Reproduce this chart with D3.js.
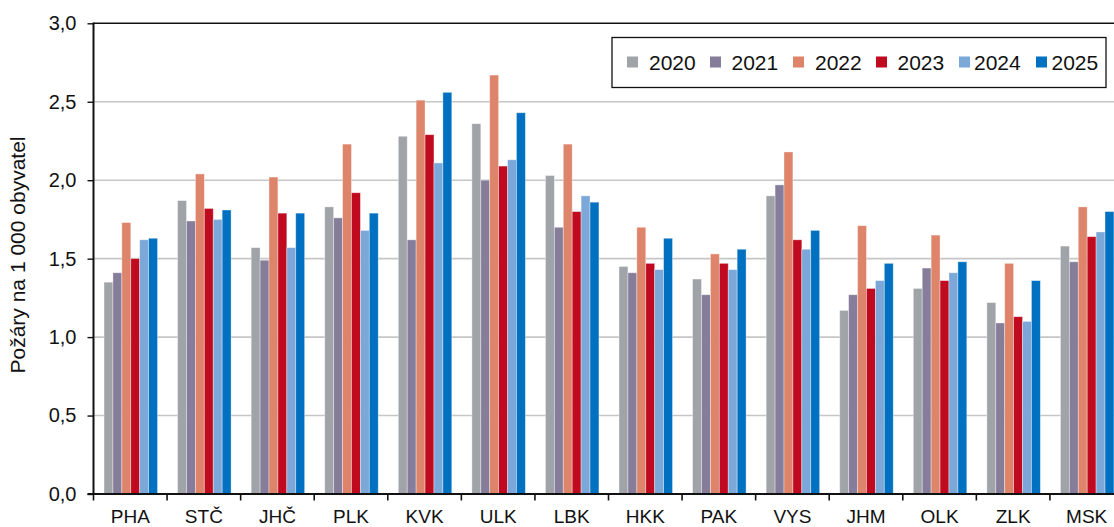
<!DOCTYPE html>
<html>
<head>
<meta charset="utf-8">
<script src="https://cdn.jsdelivr.net/npm/d3@7"></script>
<style>
  html, body { margin: 0; padding: 0; background: #fff; overflow: hidden; }
  svg { display: block; font-family: "Liberation Sans", Arial, sans-serif; }
</style>
</head>
<body>
<svg id="chart" width="1114" height="527"></svg>
<script>
const categories = ["PHA","STČ","JHČ","PLK","KVK","ULK","LBK","HKK","PAK","VYS","JHM","OLK","ZLK","MSK"];
const years = ["2020","2021","2022","2023","2024","2025"];
const values2020 = [1.35,1.87,1.57,1.83,2.28,2.36,2.03,1.45,1.37,1.90,1.17,1.31,1.22,1.58];
const values2021 = [1.41,1.74,1.49,1.76,1.62,2.00,1.70,1.41,1.27,1.97,1.27,1.44,1.09,1.48];
const values2022 = [1.73,2.04,2.02,2.23,2.51,2.67,2.23,1.70,1.53,2.18,1.71,1.65,1.47,1.83];
const values2023 = [1.50,1.82,1.79,1.92,2.29,2.09,1.80,1.47,1.47,1.62,1.31,1.36,1.13,1.64];
const values2024 = [1.62,1.75,1.57,1.68,2.11,2.13,1.90,1.43,1.43,1.56,1.36,1.41,1.10,1.67];
const values2025 = [1.63,1.81,1.79,1.79,2.56,2.43,1.86,1.63,1.56,1.68,1.47,1.48,1.36,1.80];
const yTicks = [0,0.5,1.0,1.5,2.0,2.5,3.0];
const yTitle = "Požáry na 1 000 obyvatel";

const colors = ["#A0A3A8","#857D99","#DE846A","#C00A20","#7BA7D9","#0070C0"];
const series = [values2020, values2021, values2022, values2023, values2024, values2025];

(function draw() {
const svg = d3.select("#chart");
svg.append("rect").attr("width",1114).attr("height",527).attr("fill","#fff");

const pLeft = 93.5, pRight = 1123.5, pTop = 23.3, pBottom = 494;
const x0 = d3.scaleBand().domain(categories).range([pLeft, pRight]).paddingInner(0).paddingOuter(0);
const bw = x0.bandwidth();
const x1 = d3.scaleBand().domain(years).range([bw*0.143, bw*0.87]).padding(0);
const y = d3.scaleLinear().domain([0,3]).range([pBottom, pTop]);

// gridlines
svg.append("g").selectAll("line").data(yTicks.filter(d => d > 0)).join("line")
  .attr("x1", pLeft).attr("x2", 1114)
  .attr("y1", d => y(d)).attr("y2", d => y(d))
  .attr("stroke", d => d === 3 ? "#111" : "#c6c6c6")
  .attr("stroke-width", d => d === 3 ? 1.4 : 1.6);

// bars
const gBars = svg.append("g");
series.forEach((vals, si) => {
  gBars.append("g").selectAll("rect").data(vals).join("rect")
    .attr("x", (d,i) => x0(categories[i]) + x1(years[si]))
    .attr("width", x1.bandwidth())
    .attr("y", d => y(d))
    .attr("height", d => y(0) - y(d))
    .attr("fill", colors[si])
    .attr("stroke", "#ffffff")
    .attr("stroke-opacity", 0.45)
    .attr("stroke-width", 0.8);
});

// y axis
const yAxis = d3.axisLeft(y).tickValues(yTicks)
  .tickFormat(d => d3.format(".1f")(d).replace(".", ","))
  .tickSize(6).tickPadding(11);
const gy = svg.append("g").attr("transform", `translate(${pLeft},0)`).call(yAxis);
gy.select(".domain").remove();
gy.selectAll(".tick line").attr("stroke","#111").attr("stroke-width",1.4);
gy.selectAll(".tick text").attr("font-size", 20).attr("fill","#111")
  .attr("font-family", '"Liberation Sans", Arial, sans-serif');
svg.append("line").attr("x1", pLeft).attr("x2", pLeft).attr("y1", pTop - 0.7).attr("y2", pBottom + 1)
  .attr("stroke","#111").attr("stroke-width",2);

// x axis
const xAxis = d3.axisBottom(x0).tickSize(0).tickPadding(15.5);
const gx = svg.append("g").attr("transform", `translate(0,${pBottom})`).call(xAxis);
gx.select(".domain").remove();
gx.selectAll(".tick text").attr("font-size", 19).attr("fill","#111")
  .attr("font-family", '"Liberation Sans", Arial, sans-serif');
svg.append("line").attr("x1", pLeft - 6).attr("x2", 1114).attr("y1", pBottom).attr("y2", pBottom)
  .attr("stroke","#111").attr("stroke-width",2);
svg.append("g").selectAll("line").data(categories).join("line")
  .attr("x1", d => x0(d)).attr("x2", d => x0(d))
  .attr("y1", pBottom).attr("y2", pBottom + 6.5)
  .attr("stroke","#111").attr("stroke-width",1.6);

// y title
svg.append("text")
  .attr("transform", `translate(25,255) rotate(-90)`)
  .attr("text-anchor","middle")
  .attr("font-size", 21).attr("fill","#111")
  .text(yTitle);

// legend
const legendSquareX = [627, 710, 793, 876, 959, 1036];
const legendTextX = [649, 731.5, 815, 897.5, 974, 1051.5];
const lg = svg.append("g");
lg.append("rect").attr("x", 612).attr("y", 37.5).attr("width", 494).attr("height", 50)
  .attr("fill","#fff").attr("stroke","#111").attr("stroke-width",1.3);
years.forEach((yr, i) => {
  lg.append("rect").attr("x", legendSquareX[i]).attr("y", 56.5).attr("width", 11).attr("height", 11)
    .attr("fill", colors[i]);
  lg.append("text").attr("x", legendTextX[i]).attr("y", 69.5)
    .attr("font-size", 21).attr("fill","#111").text(yr);
});
})();
</script>
</body>
</html>
